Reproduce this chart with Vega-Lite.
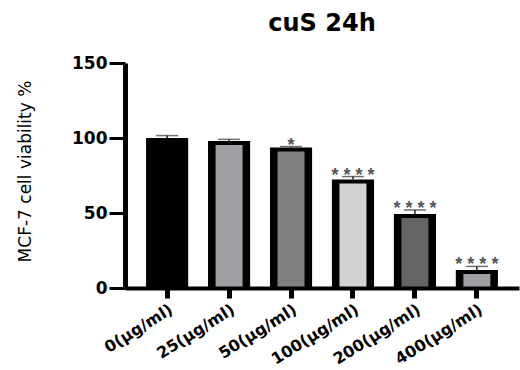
{
  "$schema": "https://vega.github.io/schema/vega-lite/v6.json",
  "width": 394,
  "height": 225,
  "autosize": "none",
  "padding": {"left": 125, "top": 63, "right": 1, "bottom": 82},
  "background": "white",
  "title": {"text": "cuS 24h", "font": "DejaVu Sans", "fontWeight": "bold", "fontSize": 24, "color": "black", "anchor": "middle", "offset": 18},
  "config": {"view": {"stroke": null}},
  "data": {"values": [
    {"dose": "0(μg/ml)", "v": 100, "hi": 101.6, "sig": ""},
    {"dose": "25(μg/ml)", "v": 98, "hi": 99.1, "sig": ""},
    {"dose": "50(μg/ml)", "v": 93.6, "hi": 94.3, "sig": "*"},
    {"dose": "100(μg/ml)", "v": 72.4, "hi": 74.3, "sig": "* * * *"},
    {"dose": "200(μg/ml)", "v": 49.3, "hi": 52, "sig": "* * * *"},
    {"dose": "400(μg/ml)", "v": 12, "hi": 14.4, "sig": "* * * *"}
  ]},
  "encoding": {
    "x": {"field": "dose", "type": "nominal", "sort": null,
      "scale": {"paddingInner": 0.32, "paddingOuter": 0.34},
      "axis": {"title": null, "labelAngle": -32, "labelFont": "DejaVu Sans", "labelFontWeight": "bold", "labelFontSize": 16, "labelColor": "black", "labelPadding": 3, "labelOverlap": false,
        "domainColor": "black", "domainWidth": 4, "tickColor": "black", "tickWidth": 5, "tickSize": 10, "zindex": 1}}
  },
  "layer": [
    {"mark": {"type": "bar", "fill": "black", "stroke": null},
     "encoding": {"y": {"field": "v", "type": "quantitative", "scale": {"domain": [0, 150], "nice": false},
       "axis": {"title": "MCF-7 cell viability %", "values": [0, 50, 100, 150], "grid": false,
         "domainColor": "black", "domainWidth": 5, "tickColor": "black", "tickWidth": 3, "tickSize": 16,
         "labelFont": "DejaVu Sans", "labelFontWeight": "bold", "labelFontSize": 17, "labelColor": "black", "labelPadding": 2,
         "titleFont": "DejaVu Sans", "titleFontSize": 17, "titleFontWeight": "normal", "titleColor": "black",
         "titleX": -100, "titleY": 108, "titleAngle": -90, "titleBaseline": "middle", "titleAlign": "center", "zindex": 1}}}},
    {"mark": {"type": "bar", "width": 27, "yOffset": 4, "stroke": null},
     "encoding": {"y": {"field": "v", "type": "quantitative"}, "y2": {"datum": 0},
       "fill": {"field": "dose", "type": "nominal", "legend": null,
         "scale": {"domain": ["0(μg/ml)", "25(μg/ml)", "50(μg/ml)", "100(μg/ml)", "200(μg/ml)", "400(μg/ml)"],
                   "range": ["#000000", "#a0a0a4", "#808080", "#d4d4d4", "#646464", "#a0a0a4"]}}}},
    {"mark": {"type": "rule", "color": "#222", "strokeWidth": 1.5},
     "encoding": {"y": {"field": "v", "type": "quantitative"}, "y2": {"field": "hi"}}},
    {"mark": {"type": "tick", "color": "#333", "thickness": 1.5, "size": 22},
     "encoding": {"y": {"field": "hi", "type": "quantitative"}}},
    {"mark": {"type": "text", "font": "Liberation Sans", "fontWeight": "bold", "fontSize": 18, "color": "#555", "baseline": "alphabetic", "dy": 4},
     "encoding": {"y": {"field": "hi", "type": "quantitative"}, "text": {"field": "sig"}}}
  ]
}
